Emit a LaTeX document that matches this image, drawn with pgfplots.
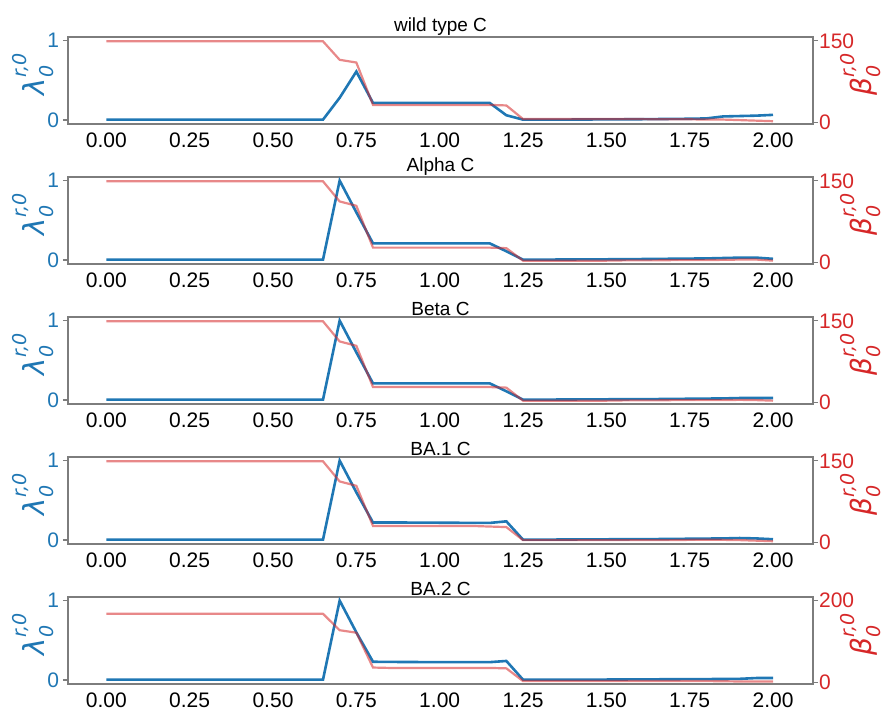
\documentclass[border=0pt]{standalone}
\usepackage{pgfplots}
\usepackage{pgfplotstable}
\pgfplotsset{compat=1.18}
\usepackage{fontspec}
\setmainfont{Liberation Sans}
\newfontfamily\dejavu{DejaVu Sans}
\definecolor{cblue}{RGB}{31,119,180}
\definecolor{cred}{RGB}{214,39,40}
\definecolor{spine}{RGB}{125,125,125}
\newcommand{\symlab}[1]{{\dejavu\itshape #1\rlap{\raisebox{0.62em}{\fontsize{9.5}{11}\selectfont r,0}}\raisebox{-0.3em}{\fontsize{9.5}{11}\selectfont 0}\hspace{1.2em}}}

\pgfplotstableread{
x lam beta
0.00 0.005 149
0.05 0.005 149
0.10 0.005 149
0.15 0.005 149
0.20 0.005 149
0.25 0.005 149
0.30 0.005 149
0.35 0.005 149
0.40 0.005 149
0.45 0.005 149
0.50 0.005 149
0.55 0.005 149
0.60 0.005 149
0.65 0.005 149
0.70 0.28 115
0.75 0.61 110
0.80 0.215 32
0.85 0.215 32
0.90 0.215 32
0.95 0.215 32
1.00 0.215 32
1.05 0.215 32
1.10 0.215 32
1.15 0.215 32
1.20 0.06 31
1.25 0.005 6
1.30 0.005 6
1.35 0.005 6
1.40 0.006 6
1.45 0.007 6
1.50 0.008 6
1.55 0.009 6
1.60 0.010 6
1.65 0.012 5.5
1.70 0.014 5.5
1.75 0.016 5.5
1.80 0.02 5
1.85 0.045 5
1.90 0.05 4
1.95 0.055 3
2.00 0.065 2
}\tabwt

\pgfplotstableread{
x lam beta
0.00 0.005 149
0.05 0.005 149
0.10 0.005 149
0.15 0.005 149
0.20 0.005 149
0.25 0.005 149
0.30 0.005 149
0.35 0.005 149
0.40 0.005 149
0.45 0.005 149
0.50 0.005 149
0.55 0.005 149
0.60 0.005 149
0.65 0.005 149
0.70 1.0 112
0.75 0.6 104
0.80 0.21 27
0.85 0.21 27
0.90 0.21 27
0.95 0.21 27
1.00 0.21 27
1.05 0.21 27
1.10 0.21 27
1.15 0.21 27
1.20 0.11 26
1.25 0.005 3
1.30 0.005 3
1.35 0.006 3
1.40 0.007 3
1.45 0.008 3
1.50 0.009 3
1.55 0.010 3.5
1.60 0.012 3.5
1.65 0.014 3.5
1.70 0.016 4
1.75 0.018 4
1.80 0.02 4
1.85 0.025 4.5
1.90 0.03 5
1.95 0.03 5
2.00 0.015 3
}\tabalpha

\pgfplotstableread{
x lam beta
0.00 0.005 149
0.05 0.005 149
0.10 0.005 149
0.15 0.005 149
0.20 0.005 149
0.25 0.005 149
0.30 0.005 149
0.35 0.005 149
0.40 0.005 149
0.45 0.005 149
0.50 0.005 149
0.55 0.005 149
0.60 0.005 149
0.65 0.005 149
0.70 1.0 112
0.75 0.6 104
0.80 0.21 28
0.85 0.21 28
0.90 0.21 28
0.95 0.21 28
1.00 0.21 28
1.05 0.21 28
1.10 0.21 28
1.15 0.21 28
1.20 0.11 27
1.25 0.005 3
1.30 0.005 3
1.35 0.006 3
1.40 0.007 3
1.45 0.008 3
1.50 0.009 3
1.55 0.010 3.5
1.60 0.011 3.5
1.65 0.012 3.5
1.70 0.014 4
1.75 0.016 4
1.80 0.018 4
1.85 0.02 4
1.90 0.025 4.5
1.95 0.025 4
2.00 0.025 3
}\tabbeta

\pgfplotstableread{
x lam beta
0.00 0.005 149
0.05 0.005 149
0.10 0.005 149
0.15 0.005 149
0.20 0.005 149
0.25 0.005 149
0.30 0.005 149
0.35 0.005 149
0.40 0.005 149
0.45 0.005 149
0.50 0.005 149
0.55 0.005 149
0.60 0.005 149
0.65 0.005 149
0.70 1.0 112
0.75 0.6 104
0.80 0.22 30
0.85 0.22 30
0.90 0.22 30
0.95 0.219 30
1.00 0.218 30
1.05 0.217 30
1.10 0.216 30
1.15 0.215 29
1.20 0.235 28
1.25 0.005 4
1.30 0.005 4
1.35 0.006 4
1.40 0.007 4
1.45 0.008 4
1.50 0.009 4
1.55 0.010 4
1.60 0.011 4
1.65 0.012 4
1.70 0.014 4
1.75 0.016 4.5
1.80 0.018 4.5
1.85 0.02 4.5
1.90 0.025 4
1.95 0.02 3
2.00 0.01 2
}\tabbaone

\pgfplotstableread{
x lam beta
0.00 0.005 167
0.05 0.005 167
0.10 0.005 167
0.15 0.005 167
0.20 0.005 167
0.25 0.005 167
0.30 0.005 167
0.35 0.005 167
0.40 0.005 167
0.45 0.005 167
0.50 0.005 167
0.55 0.005 167
0.60 0.005 167
0.65 0.005 167
0.70 1.0 127
0.75 0.6 121
0.80 0.23 36
0.85 0.228 35
0.90 0.227 35
0.95 0.226 35
1.00 0.225 35
1.05 0.225 35
1.10 0.225 35
1.15 0.225 35
1.20 0.24 34
1.25 0.005 3
1.30 0.005 3
1.35 0.005 3
1.40 0.005 3
1.45 0.006 3
1.50 0.006 3
1.55 0.007 3
1.60 0.008 3
1.65 0.009 3
1.70 0.010 3
1.75 0.011 3
1.80 0.012 3
1.85 0.013 2.5
1.90 0.015 2
1.95 0.025 2
2.00 0.025 2
}\tabbatwo

\pgfplotsset{
  base/.style={
    width=372.5pt, height=43.5pt, scale only axis,
    xmin=-0.115, xmax=2.12,
    axis line style={spine, line width=0.7pt},
    tick style={spine, line width=0.6pt},
    tick align=outside, major tick length=2.5pt,
    /pgf/number format/assume math mode=true,
    tick label style={font=\fontsize{10.5}{12}\selectfont},
  },
  lft/.style={
    base,
    ymin=-0.05, ymax=1.045,
    ytick={0,1}, ytick pos=left, xtick pos=bottom,
    xtick style={draw=none},
    yticklabel style={text=cblue, xshift=1.5pt},
    xtick={0,0.25,0.5,0.75,1,1.25,1.5,1.75,2},
    xticklabel style={yshift=1.5pt, /pgf/number format/.cd, fixed, fixed zerofill, precision=2},
    ylabel={\symlab{λ}},
    ylabel style={text=cblue, font=\fontsize{14.5}{17}\selectfont, yshift=-10pt},
    title style={font=\fontsize{9.5}{11}\selectfont, yshift=-9pt},
  },
  rgt/.style={
    base,
    axis y line*=right, axis x line=none,
    yticklabel style={text=cred, xshift=-3pt},
    ylabel={\symlab{β}},
    ylabel style={text=cred, font=\fontsize{14}{17}\selectfont, inner sep=0pt, yshift=10.5pt},
  },
}

\newcommand{\panel}[5]{%
  \begin{axis}[lft, at={(0,#1)}, title={#2}]
    \addplot[cblue, line width=1.3pt] table[x=x, y=lam] {#3};
  \end{axis}
  \begin{axis}[rgt, at={(0,#1)}, ymin=-0.02*#4, ymax=#4, ytick={0,#5}]
    \addplot[cred, opacity=0.55, line width=1.1pt] table[x=x, y=beta] {#3};
  \end{axis}%
}

\begin{document}
\begin{tikzpicture}
\useasboundingbox (-34pt,-296pt) rectangle (407.5pt,62pt);
\panel{0pt}{wild type C}{\tabwt}{157}{150}
\panel{-70pt}{Alpha C}{\tabalpha}{157}{150}
\panel{-140pt}{Beta C}{\tabbeta}{157}{150}
\panel{-210pt}{BA.1 C}{\tabbaone}{157}{150}
\panel{-280pt}{BA.2 C}{\tabbatwo}{208}{200}
\end{tikzpicture}
\end{document}
